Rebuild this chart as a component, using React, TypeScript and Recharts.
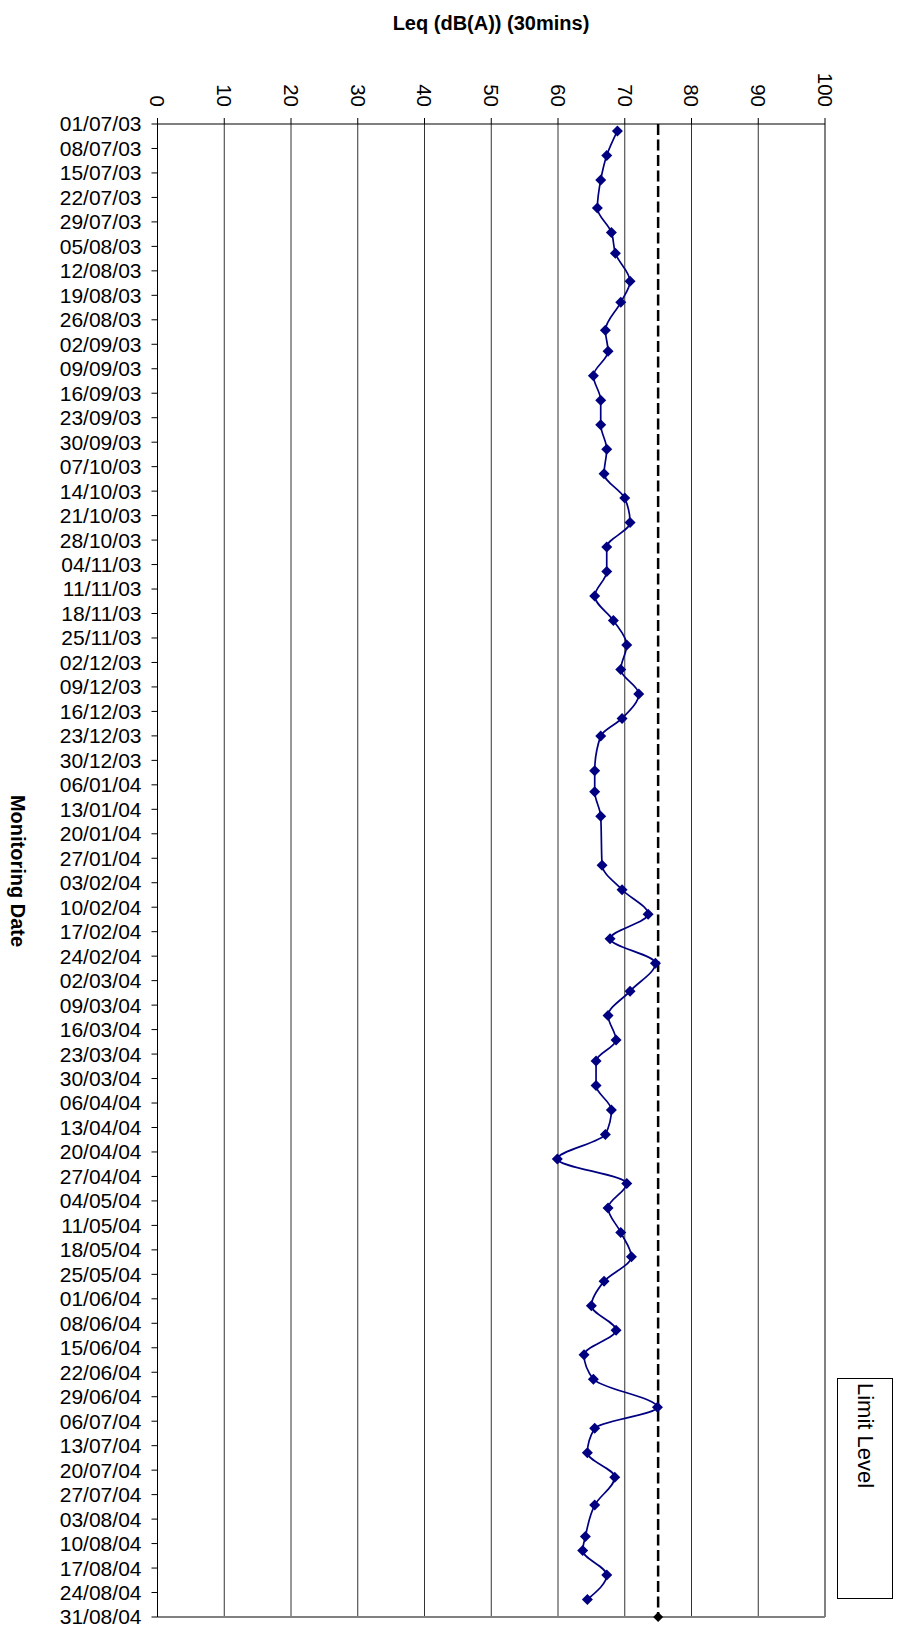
import React from 'react';
import { LineChart, Line, XAxis, YAxis, CartesianGrid, ReferenceLine } from 'recharts';

// monitoring dates (dd/mm/yy) and measured Leq (dB(A), 30 min)
const SAMPLE_DATES = [
  '03/07/03', '10/07/03', '17/07/03', '25/07/03', '01/08/03', '07/08/03', '15/08/03', '21/08/03',
  '29/08/03', '04/09/03', '11/09/03', '18/09/03', '25/09/03', '02/10/03', '09/10/03', '16/10/03',
  '23/10/03', '30/10/03', '06/11/03', '13/11/03', '20/11/03', '27/11/03', '04/12/03', '11/12/03',
  '18/12/03', '23/12/03', '02/01/04', '08/01/04', '15/01/04', '29/01/04', '05/02/04', '12/02/04',
  '19/02/04', '26/02/04', '05/03/04', '12/03/04', '19/03/04', '25/03/04', '01/04/04', '08/04/04',
  '15/04/04', '22/04/04', '29/04/04', '06/05/04', '13/05/04', '20/05/04', '27/05/04', '03/06/04',
  '10/06/04', '17/06/04', '24/06/04', '02/07/04', '08/07/04', '15/07/04', '22/07/04', '30/07/04',
  '08/08/04', '12/08/04', '19/08/04', '26/08/04',
];

const LEQ = [
  68.9, 67.3, 66.4, 65.9, 68.0, 68.6, 70.8, 69.4,
  67.1, 67.5, 65.3, 66.4, 66.4, 67.3, 66.9, 70.0,
  70.8, 67.3, 67.3, 65.5, 68.3, 70.3, 69.4, 72.1,
  69.6, 66.4, 65.5, 65.5, 66.4, 66.6, 69.6, 73.5,
  67.8, 74.6, 70.8, 67.5, 68.7, 65.7, 65.7, 68.0,
  67.1, 59.9, 70.3, 67.5, 69.4, 71.0, 66.9, 65.0,
  68.7, 63.9, 65.3, 74.9, 65.5, 64.4, 68.5, 65.5,
  64.1, 63.7, 67.3, 64.4,
];

const LIMIT_DATES = ['01/07/03', '31/08/04'];
const LIMIT_VALUES = [75, 75];

const DATE_TICKS = [
  '01/07/03', '08/07/03', '15/07/03', '22/07/03', '29/07/03', '05/08/03', '12/08/03', '19/08/03',
  '26/08/03', '02/09/03', '09/09/03', '16/09/03', '23/09/03', '30/09/03', '07/10/03', '14/10/03',
  '21/10/03', '28/10/03', '04/11/03', '11/11/03', '18/11/03', '25/11/03', '02/12/03', '09/12/03',
  '16/12/03', '23/12/03', '30/12/03', '06/01/04', '13/01/04', '20/01/04', '27/01/04', '03/02/04',
  '10/02/04', '17/02/04', '24/02/04', '02/03/04', '09/03/04', '16/03/04', '23/03/04', '30/03/04',
  '06/04/04', '13/04/04', '20/04/04', '27/04/04', '04/05/04', '11/05/04', '18/05/04', '25/05/04',
  '01/06/04', '08/06/04', '15/06/04', '22/06/04', '29/06/04', '06/07/04', '13/07/04', '20/07/04',
  '27/07/04', '03/08/04', '10/08/04', '17/08/04', '24/08/04', '31/08/04',
];

const LEQ_TICKS = [0, 10, 20, 30, 40, 50, 60, 70, 80, 90, 100];

const FONT = '"Liberation Sans", Arial, sans-serif';

const toTime = (s: string) => {
  const [d, m, y] = s.split('/').map(Number);
  return Date.UTC(2000 + y, m - 1, d);
};

const fmtDate = (t: number) => {
  const dt = new Date(t);
  const p = (n: number) => String(n).padStart(2, '0');
  return `${p(dt.getUTCDate())}/${p(dt.getUTCMonth() + 1)}/${p(dt.getUTCFullYear() % 100)}`;
};

const dateTicks = DATE_TICKS.map(toTime);
const lastLimitDate = toTime(LIMIT_DATES[LIMIT_DATES.length - 1]);

// one table, sorted by date; each series skips the rows it has no value for
const rows = [
  ...SAMPLE_DATES.map((d, i) => ({ date: toTime(d), leq: LEQ[i] as number | null, limit: null as number | null })),
  ...LIMIT_DATES.map((d, i) => ({ date: toTime(d), leq: null as number | null, limit: LIMIT_VALUES[i] as number | null })),
].sort((a, b) => a.date - b.date);

const diamond = (cx: number, cy: number, r: number) =>
  `M${cx},${cy - r}L${cx + r},${cy}L${cx},${cy + r}L${cx - r},${cy}Z`;

const LeqDot = (props: any) => {
  const { cx, cy, index, value } = props;
  if (cx == null || cy == null || value == null) return <g key={`ld-${index}`} />;
  return <path key={`ld-${index}`} d={diamond(cx, cy, 5.5)} fill="#000080" />;
};

const LimitDot = (props: any) => {
  const { cx, cy, index, payload } = props;
  if (cx == null || cy == null || !payload || payload.date !== lastLimitDate) return <g key={`lm-${index}`} />;
  return <path key={`lm-${index}`} d={diamond(cx, cy, 5)} fill="#000" />;
};

const TopTick = (props: any) => {
  const { x, y, payload } = props;
  return (
    <text
      x={x}
      y={y}
      dy="0.35em"
      textAnchor="end"
      transform={`rotate(90, ${x}, ${y})`}
      fontSize={20.5}
      fontFamily={FONT}
      fill="#000"
    >
      {payload.value}
    </text>
  );
};

export default function App() {
  return (
    <div style={{ position: 'relative', width: 899, height: 1631, background: '#fff', fontFamily: FONT }}>
      <style>{'body{margin:0}'}</style>
      <div
        style={{
          position: 'absolute',
          left: 0,
          width: 982,
          top: 10,
          textAlign: 'center',
          fontWeight: 'bold',
          fontSize: 20,
          lineHeight: '26px',
        }}
      >
        Leq (dB(A)) (30mins)
      </div>
      <div
        style={{
          position: 'absolute',
          left: 18,
          top: 871,
          transform: 'translate(-50%, -50%) rotate(90deg)',
          whiteSpace: 'nowrap',
          fontWeight: 'bold',
          fontSize: 20,
          lineHeight: '24px',
        }}
      >
        Monitoring Date
      </div>
      <div
        style={{
          position: 'absolute',
          left: 837,
          top: 1378,
          width: 56,
          height: 221,
          border: '1px solid #000',
          background: '#fff',
          boxSizing: 'border-box',
        }}
      >
        <div
          style={{
            position: 'absolute',
            left: 40,
            top: 4,
            transformOrigin: '0 0',
            transform: 'rotate(90deg)',
            whiteSpace: 'nowrap',
            fontSize: 22,
            lineHeight: '26px',
          }}
        >
          Limit Level
        </div>
      </div>
      <LineChart
        width={899}
        height={1631}
        data={rows}
        layout="vertical"
        margin={{ top: 0, right: 74, bottom: 14, left: 0 }}
        style={{ position: 'absolute', left: 0, top: 0 }}
      >
        <CartesianGrid horizontal={false} stroke="#333" strokeWidth={1} />
        <XAxis
          type="number"
          orientation="top"
          domain={[0, 100]}
          ticks={LEQ_TICKS}
          interval={0}
          height={124}
          tickSize={6}
          tickMargin={11}
          tick={<TopTick />}
          axisLine={{ stroke: '#000' }}
          tickLine={{ stroke: '#000' }}
        />
        <YAxis
          type="number"
          dataKey="date"
          domain={[dateTicks[0], dateTicks[dateTicks.length - 1]]}
          ticks={dateTicks}
          interval={0}
          width={157.5}
          tickSize={6}
          tickMargin={10}
          tickFormatter={fmtDate}
          tick={{ fontSize: 21, fontFamily: FONT, fill: '#000' }}
          axisLine={{ stroke: '#000' }}
          tickLine={{ stroke: '#000' }}
        />
        <ReferenceLine x={100} stroke="#808080" strokeWidth={2} />
        <ReferenceLine y={dateTicks[dateTicks.length - 1]} stroke="#808080" strokeWidth={2} />
        <Line
          dataKey="limit"
          type="linear"
          stroke="#000"
          strokeWidth={2.5}
          strokeDasharray="11 4.5"
          connectNulls
          dot={LimitDot}
          activeDot={false}
          isAnimationActive={false}
        />
        <Line
          dataKey="leq"
          type="monotone"
          stroke="#000080"
          strokeWidth={1.7}
          connectNulls
          dot={LeqDot}
          activeDot={false}
          isAnimationActive={false}
        />
      </LineChart>
    </div>
  );
}
